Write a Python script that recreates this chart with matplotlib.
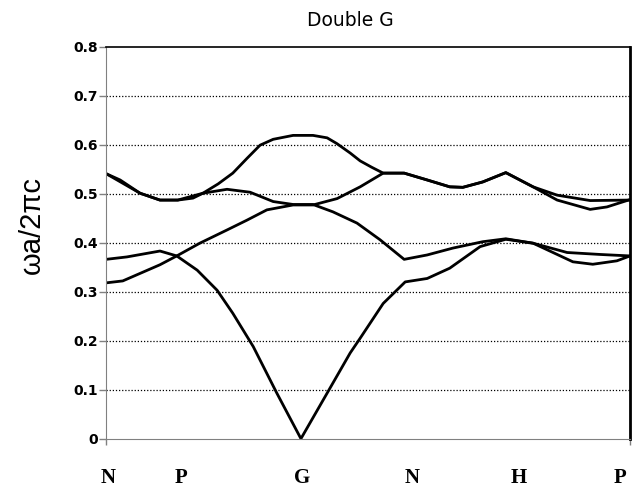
import matplotlib
matplotlib.use("Agg")
import matplotlib.pyplot as plt
import matplotlib.transforms as mtransforms

# Зонная структура "Double G": частота ωa/2πc вдоль пути N-P-G-N-H-P
# k - доля длины пути (0..1), w - нормированная частота

k1 = [0.000, 0.040, 0.103, 0.135, 0.174, 0.212, 0.242, 0.281, 0.326, 0.372,
      0.422, 0.466, 0.485, 0.529, 0.571, 0.613, 0.656, 0.714, 0.763, 0.815,
      0.891, 0.929, 0.975, 1.000]
w1 = [0.366, 0.371, 0.383, 0.373, 0.344, 0.303, 0.256, 0.188, 0.093, 0.000,
      0.093, 0.175, 0.205, 0.276, 0.320, 0.327, 0.348, 0.392, 0.407, 0.399,
      0.361, 0.356, 0.363, 0.373]

k2 = [0.000, 0.032, 0.103, 0.135, 0.179, 0.231, 0.269, 0.307, 0.357, 0.395,
      0.441, 0.485, 0.529, 0.569, 0.613, 0.656, 0.681, 0.719, 0.763, 0.815,
      0.861, 0.924, 0.956, 1.000]
w2 = [0.318, 0.322, 0.355, 0.373, 0.399, 0.426, 0.446, 0.467, 0.477, 0.477,
      0.490, 0.514, 0.542, 0.542, 0.528, 0.514, 0.513, 0.524, 0.543, 0.514,
      0.487, 0.468, 0.473, 0.488]

k3 = [0.000, 0.027, 0.065, 0.103, 0.137, 0.166, 0.185, 0.214, 0.242, 0.269,
      0.294, 0.319, 0.357, 0.395, 0.422, 0.441, 0.466, 0.485, 0.507, 0.529,
      0.569, 0.613, 0.656, 0.681, 0.719, 0.763, 0.815, 0.861, 0.924, 1.000]
w3 = [0.541, 0.528, 0.501, 0.487, 0.487, 0.491, 0.501, 0.520, 0.542, 0.572,
      0.599, 0.611, 0.619, 0.619, 0.614, 0.602, 0.583, 0.567, 0.554, 0.542,
      0.542, 0.528, 0.514, 0.513, 0.524, 0.543, 0.514, 0.497, 0.486, 0.487]

k4 = [0.000, 0.065, 0.103, 0.137, 0.185, 0.231, 0.275, 0.319, 0.357, 0.395,
      0.433, 0.479, 0.523, 0.569, 0.613, 0.662, 0.719, 0.763, 0.815, 0.880,
      0.943, 1.000]
w4 = [0.541, 0.501, 0.487, 0.487, 0.501, 0.509, 0.503, 0.484, 0.478, 0.478,
      0.463, 0.440, 0.406, 0.366, 0.375, 0.389, 0.402, 0.408, 0.399, 0.380,
      0.376, 0.373]

point_labels = ["N", "P", "G", "N", "H", "P"]
label_pos = [0.004, 0.143, 0.374, 0.584, 0.788, 0.981]
yticks = [0, 0.1, 0.2, 0.3, 0.4, 0.5, 0.6, 0.7, 0.8]
ytick_labels = ["0", "0.1", "0.2", "0.3", "0.4", "0.5", "0.6", "0.7", "0.8"]

W, H = 644, 490
fig = plt.figure(figsize=(W / 100, H / 100), dpi=100)
ax = fig.add_axes([106 / W, 51.3 / H, 524 / W, 392 / H])

for k, w in [(k1, w1), (k2, w2), (k3, w3), (k4, w4)]:
    ax.plot(k, w, color="black", linewidth=2, solid_joinstyle="round",
            solid_capstyle="round")

ax.set_xlim(0, 1)
ax.set_ylim(0, 0.8)

for y in yticks[1:-1]:
    ax.axhline(y, color="black", linewidth=0.9, linestyle=(0, (1, 1.5)), zorder=0)

ax.set_yticks(yticks)
ax.set_yticklabels(ytick_labels, fontsize=10, fontweight="bold")
ax.tick_params(axis="y", direction="out", length=5, width=1, color="#808080", pad=1)
ax.set_xticks([0, 1])
ax.set_xticklabels(["", ""])
ax.tick_params(axis="x", direction="out", length=4, width=1, color="#808080")

ax.spines["left"].set_color("#808080")
ax.spines["bottom"].set_color("#808080")
ax.spines["top"].set_color("black")
ax.spines["top"].set_linewidth(1.2)
ax.spines["right"].set_color("black")
ax.spines["right"].set_linewidth(2)

trans = mtransforms.blended_transform_factory(ax.transData, ax.transAxes)
for x, lab in zip(label_pos, point_labels):
    ax.text(x, -0.099, lab, transform=trans, ha="center", va="center",
            fontsize=15, fontweight="bold", family="Liberation Serif")

fig.text(350 / W, 1 - 20 / H, "Double G", ha="center", va="center", fontsize=13.5)
fig.text(32 / W, 1 - 225 / H, "ωa/2πc", ha="center", va="center", rotation=90,
         fontsize=21, family="Liberation Sans")

fig.savefig("out.png", dpi=100)
